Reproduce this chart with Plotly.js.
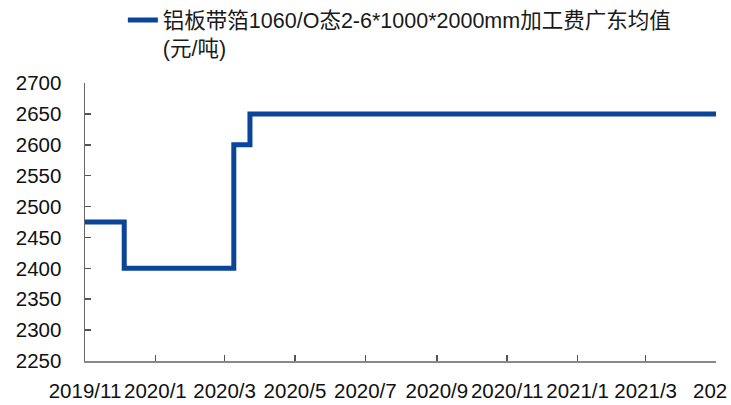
<!DOCTYPE html>
<html>
<head>
<meta charset="utf-8">
<script src="https://cdn.plot.ly/plotly-3.0.1.min.js"></script>
<style>html,body{margin:0;padding:0;background:#fff;}#chart{width:731px;height:405px;}</style>
</head>
<body>
<div id="chart"></div>
<script>
// Step change points (value holds until next date)
var dates = ['2019-11-01', '2019-12-05', '2020-03-09', '2020-03-23', '2021-05-01'];
var values = [2475, 2400, 2600, 2650, 2650];
var seriesName = '铝板带箔1060/O态2-6*1000*2000mm加工费广东均值<br>(元/吨)';
var tickDates = ['2019-11-01','2020-01-01','2020-03-01','2020-05-01','2020-07-01','2020-09-01','2020-11-01','2021-01-01','2021-03-01','2021-05-01'];
var tickLabels = ['2019/11','2020/1','2020/3','2020/5','2020/7','2020/9','2020/11','2021/1','2021/3',''];
var lastTickLabel = '202';   // the reference shows the final label cut short at the chart edge
var yTicks = [2250, 2300, 2350, 2400, 2450, 2500, 2550, 2600, 2650, 2700];

var FONT = 'Liberation Sans, Noto Sans CJK SC, sans-serif';

var trace = {
  x: dates,
  y: values,
  type: 'scatter',
  mode: 'lines',
  name: seriesName,
  line: {color: '#0A4599', width: 5, shape: 'hv'}
};

var layout = {
  width: 731, height: 405,
  margin: {l: 85, r: 15, t: 83, b: 44, autoexpand: false},
  paper_bgcolor: '#ffffff',
  plot_bgcolor: '#ffffff',
  showlegend: true,
  legend: {
    x: 0.06, y: 1.30, xanchor: 'left', yanchor: 'top',
    orientation: 'v', valign: 'top',
    font: {family: FONT, size: 21.5, color: '#1a1a1a'},
    bgcolor: 'rgba(0,0,0,0)'
  },
  annotations: [{
    xref: 'paper', yref: 'paper', x: 1, y: 0,
    xanchor: 'right', yanchor: 'middle',
    xshift: 13, yshift: -29,
    text: lastTickLabel, showarrow: false,
    font: {family: FONT, size: 20.5, color: '#111'}
  }],
  xaxis: {
    type: 'date',
    range: ['2019-11-01', '2021-05-01'],
    tickmode: 'array',
    tickvals: tickDates,
    ticktext: tickLabels,
    tickangle: 0,
    ticks: 'inside', ticklen: 6, tickwidth: 1.5, tickcolor: '#555',
    showline: true, linecolor: '#888', linewidth: 1.5,
    showgrid: false, zeroline: false,
    tickfont: {family: FONT, size: 20.5, color: '#111'},
    ticklabelstandoff: 11
  },
  yaxis: {
    range: [2250, 2700],
    tickmode: 'array',
    tickvals: yTicks,
    ticktext: yTicks.map(String),
    ticks: 'inside', ticklen: 6, tickwidth: 1.5, tickcolor: '#555',
    showline: true, linecolor: '#666', linewidth: 1.5,
    showgrid: false, zeroline: false,
    tickfont: {family: FONT, size: 20.5, color: '#111'},
    ticklabelstandoff: 18
  }
};

Plotly.newPlot('chart', [trace], layout, {displayModeBar: false, staticPlot: true});
</script>
</body>
</html>
